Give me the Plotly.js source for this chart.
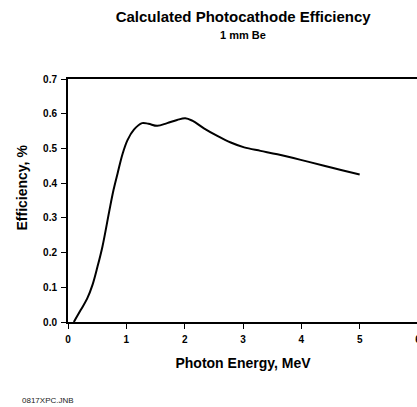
<!DOCTYPE html>
<html>
<head>
<meta charset="utf-8">
<script src="https://cdn.plot.ly/plotly-3.0.1.min.js"></script>
<style>html,body{margin:0;padding:0;background:#fff;overflow:hidden;}#chart{width:417px;height:407px;overflow:hidden;}</style>
</head>
<body>
<div id="chart"></div>
<script>
var energy = [0.10, 0.22, 0.33, 0.42, 0.505, 0.59, 0.706, 0.78, 0.85, 0.935, 1.02, 1.13, 1.27, 1.38, 1.53, 1.70, 1.87, 2.01, 2.13, 2.33, 2.56, 2.79, 3.02, 3.30, 3.59, 3.99, 4.39, 4.68, 5.00];
var efficiency = [0.000, 0.035, 0.068, 0.107, 0.159, 0.217, 0.318, 0.380, 0.428, 0.484, 0.524, 0.554, 0.573, 0.571, 0.565, 0.573, 0.582, 0.587, 0.580, 0.558, 0.536, 0.517, 0.503, 0.493, 0.483, 0.467, 0.450, 0.438, 0.425];
var xTicks = [0, 1, 2, 3, 4, 5, 6];
var yTicks = [0.0, 0.1, 0.2, 0.3, 0.4, 0.5, 0.6, 0.7];
var yTickText = ['0.0', '0.1', '0.2', '0.3', '0.4', '0.5', '0.6', '0.7'];

var F = 'Arial, "Liberation Sans", sans-serif';
var trace = {
  x: energy, y: efficiency, type: 'scatter', mode: 'lines',
  line: {color: '#000', width: 2, shape: 'spline', smoothing: 1},
  hoverinfo: 'none'
};
var layout = {
  width: 420, height: 407,
  margin: {l: 68, r: 2, t: 79, b: 85},
  paper_bgcolor: '#fff', plot_bgcolor: '#fff',
  showlegend: false,
  font: {family: F, color: '#000'},
  title: {text: '<b>Calculated Photocathode Efficiency</b>', font: {family: F, size: 15, color: '#000'}, x: 0.579, xanchor: 'center', y: 0.959, yanchor: 'middle'},
  xaxis: {
    range: [0, 6], tickvals: xTicks, ticktext: xTicks.map(String),
    ticks: 'outside', ticklen: 5, tickwidth: 1, tickcolor: '#000',
    showline: true, linecolor: '#000', linewidth: 2, mirror: true,
    showgrid: false, zeroline: false, ticklabeloverflow: 'allow', ticklabelstandoff: 2,
    tickfont: {family: F, size: 10, color: '#000', weight: 'bold'},
    title: {text: '<b>Photon Energy, MeV</b>', font: {family: F, size: 14, color: '#000'}, standoff: 14}
  },
  yaxis: {
    range: [0, 0.7], tickvals: yTicks, ticktext: yTickText,
    ticks: 'outside', ticklen: 5, tickwidth: 1, tickcolor: '#000',
    showline: true, linecolor: '#000', linewidth: 2, mirror: true,
    showgrid: false, zeroline: false, ticklabelstandoff: 2,
    tickfont: {family: F, size: 10, color: '#000', weight: 'bold'}
  },
  annotations: [
    {text: '<b>Efficiency, %</b>', xref: 'paper', yref: 'paper', x: 0, y: 0.5, xanchor: 'center', yanchor: 'middle', xshift: -47, yshift: 13, textangle: -90, showarrow: false, font: {family: F, size: 14, color: '#000'}},
    {text: '<b>1 mm Be</b>', xref: 'paper', yref: 'paper', x: 0.5, y: 1, xanchor: 'center', yanchor: 'middle', yshift: 44, showarrow: false, font: {family: F, size: 11, color: '#000'}},
    {text: '0817XPC.JNB', xref: 'paper', yref: 'paper', x: 0, y: 0, xanchor: 'left', yanchor: 'middle', xshift: -48, yshift: -78, showarrow: false, font: {family: F, size: 8, color: '#222'}}
  ]
};
Plotly.newPlot('chart', [trace], layout, {staticPlot: true, displayModeBar: false});
</script>
</body>
</html>
